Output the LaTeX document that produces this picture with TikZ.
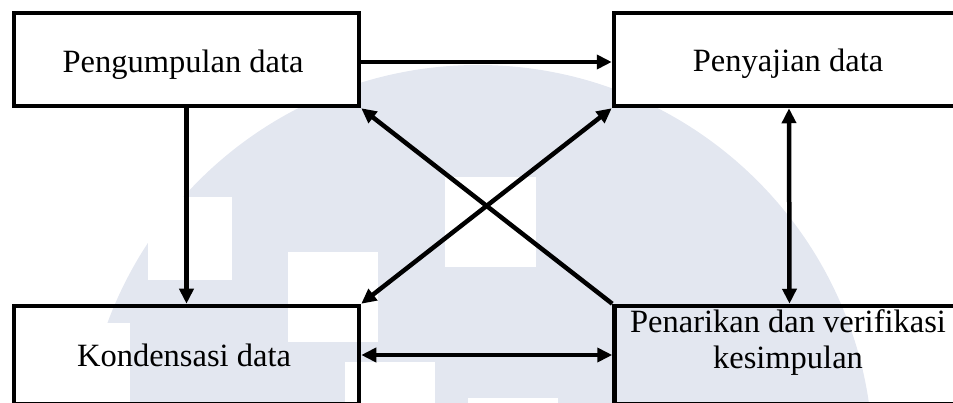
\documentclass[tikz,border=0pt]{standalone}
\usepackage{fontspec}
\setmainfont{Liberation Serif}
\usetikzlibrary{arrows.meta}
\definecolor{wm}{RGB}{227,231,240}
\begin{document}
\begin{tikzpicture}[x=1pt,y=-1pt,
  box/.style={draw=black, line width=4.5pt, inner sep=0pt, outer sep=2.25pt},
  lbl/.style={font=\fontsize{32.5}{35}\selectfont, inner sep=0pt, anchor=base},
  arr/.style={line width=4.5pt, -{Triangle[length=15pt,width=14pt]}},
  darr/.style={line width=4.5pt, {Triangle[length=15pt,width=14pt]}-{Triangle[length=15pt,width=14pt]}}]
\useasboundingbox (0,0) rectangle (953,403);
\clip (0,0) rectangle (953,403);
% watermark
\fill[wm] (478,460) circle[radius=395pt];
\fill[white] (40,323) rectangle (130,413);
\fill[white] (148,197) rectangle (232,280);
\fill[white] (288,252) rectangle (378,342);
\fill[white] (445,177) rectangle (536,267);
\fill[white] (345,362) rectangle (435,452);
\fill[white] (468,398) rectangle (558,488);
% boxes
\node[box, fill=white, minimum width=345pt, minimum height=93pt] (A) at (186.5,59.5) {};
\node[box, fill=white, minimum width=350pt, minimum height=93pt] (B) at (789,59.5) {};
\node[box, minimum width=345pt, minimum height=98pt] (C) at (186.5,355) {};
\node[box, minimum width=350pt, minimum height=98pt] (D) at (789.5,355) {};
% texts
\node[lbl] (tA) at (183,72.5) {Pengumpulan data};
\node[lbl] (tB) at (788,72) {Penyajian data};
\node[lbl] (tC) at (184,366) {Kondensasi data};
\node[lbl] (tD1) at (788,333) {Penarikan dan verifikasi};
\node[lbl] (tD2) at (788,368) {kesimpulan};
% connectors
\draw[arr] ([yshift=-2.5pt]A.east) -- ([yshift=-2.5pt]B.west);
\draw[arr] (A.south) -- (C.north);
\draw[darr] (B.south) -- (D.north);
\draw[darr] (C.east) -- (D.west);
\draw[arr] (D.north west) -- (A.south east);
\draw[darr] (C.north east) -- (B.south west);
\end{tikzpicture}
\end{document}
